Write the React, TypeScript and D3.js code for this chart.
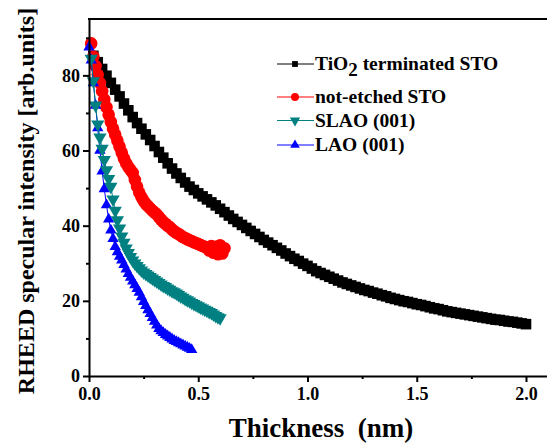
import React, { useEffect, useRef } from 'react';
import * as d3 from 'd3';

// TiO2 terminated STO
const tioThickness = [
  0.02, 0.04, 0.06, 0.08, 0.1, 0.12, 0.14, 0.16, 0.18, 0.2,
  0.22, 0.24, 0.26, 0.28, 0.3, 0.32, 0.34, 0.36, 0.38, 0.4,
  0.42, 0.44, 0.46, 0.48, 0.5, 0.52, 0.54, 0.56, 0.58, 0.6,
  0.62, 0.64, 0.66, 0.68, 0.7, 0.72, 0.74, 0.76, 0.78, 0.8,
  0.82, 0.84, 0.86, 0.88, 0.9, 0.92, 0.94, 0.96, 0.98, 1.0,
  1.02, 1.04, 1.06, 1.08, 1.1, 1.12, 1.14, 1.16, 1.18, 1.2,
  1.22, 1.24, 1.26, 1.28, 1.3, 1.32, 1.34, 1.36, 1.38, 1.4,
  1.42, 1.44, 1.46, 1.48, 1.5, 1.52, 1.54, 1.56, 1.58, 1.6,
  1.62, 1.64, 1.66, 1.68, 1.7, 1.72, 1.74, 1.76, 1.78, 1.8,
  1.82, 1.84, 1.86, 1.88, 1.9, 1.92, 1.94, 1.96, 1.98, 2.0,
];
const tioIntensity = [
  85.2, 83.5, 81.7, 79.9, 78.0, 76.2, 74.4, 72.5, 70.7, 68.9,
  67.3, 65.8, 64.3, 62.8, 61.2, 59.6, 58.1, 56.6, 55.2, 53.9,
  52.7, 51.5, 50.4, 49.5, 48.6, 47.8, 47.0, 46.2, 45.4, 44.5,
  43.6, 42.7, 41.8, 41.0, 40.2, 39.4, 38.6, 37.8, 37.0, 36.2,
  35.5, 34.8, 34.1, 33.4, 32.6, 31.9, 31.2, 30.6, 29.9, 29.3,
  28.6, 27.9, 27.4, 26.9, 26.4, 25.9, 25.4, 24.9, 24.5, 24.1,
  23.7, 23.3, 22.9, 22.6, 22.2, 21.9, 21.5, 21.2, 20.8, 20.5,
  20.2, 19.9, 19.7, 19.4, 19.1, 18.9, 18.6, 18.3, 18.0, 17.8,
  17.5, 17.2, 17.0, 16.8, 16.6, 16.4, 16.2, 16.0, 15.8, 15.6,
  15.4, 15.2, 15.0, 14.9, 14.7, 14.5, 14.4, 14.2, 14.0, 13.8,
];

// not-etched STO
const stoThickness = [
  0.01, 0.02, 0.03, 0.04, 0.05, 0.06, 0.07, 0.08, 0.09, 0.1,
  0.11, 0.12, 0.13, 0.14, 0.15, 0.16, 0.17, 0.18, 0.19, 0.2,
  0.21, 0.22, 0.23, 0.24, 0.25, 0.26, 0.27, 0.28, 0.29, 0.3,
  0.31, 0.32, 0.33, 0.34, 0.35, 0.36, 0.37, 0.38, 0.39, 0.4,
  0.41, 0.42, 0.43, 0.44, 0.45, 0.46, 0.47, 0.48, 0.49, 0.5,
  0.51, 0.52, 0.53, 0.54, 0.55, 0.56, 0.57, 0.58, 0.59, 0.6,
  0.61, 0.62,
];
const stoIntensity = [
  88.5, 85.0, 82.5, 80.2, 78.0, 75.8, 73.6, 71.5, 69.5, 67.6,
  65.8, 64.2, 62.6, 61.0, 59.4, 57.9, 56.6, 55.6, 54.8, 54.0,
  52.2, 50.4, 48.8, 47.6, 46.6, 45.8, 45.2, 44.6, 44.0, 43.5,
  43.0, 42.3, 41.6, 41.0, 40.5, 40.0, 39.6, 39.0, 38.5, 38.1,
  37.8, 37.4, 37.0, 36.7, 36.4, 36.1, 35.9, 35.6, 35.4, 35.1,
  34.9, 34.6, 34.4, 34.1, 33.4, 34.6, 32.8, 34.4, 32.4, 34.8,
  32.6, 34.0,
];

// SLAO (001)
const slaoThickness = [
  0.01, 0.02, 0.03, 0.04, 0.05, 0.06, 0.07, 0.08, 0.09, 0.1,
  0.11, 0.12, 0.13, 0.14, 0.15, 0.16, 0.17, 0.18, 0.19, 0.2,
  0.21, 0.22, 0.23, 0.24, 0.25, 0.26, 0.27, 0.28, 0.29, 0.3,
  0.31, 0.32, 0.33, 0.34, 0.35, 0.36, 0.37, 0.38, 0.39, 0.4,
  0.41, 0.42, 0.43, 0.44, 0.45, 0.46, 0.47, 0.48, 0.49, 0.5,
  0.51, 0.52, 0.53, 0.54, 0.55, 0.56, 0.57, 0.58, 0.59, 0.6,
];
const slaoIntensity = [
  84.5, 78.5, 72.0, 67.0, 63.5, 60.5, 57.5, 54.8, 52.5, 50.4,
  47.0, 44.0, 41.5, 39.3, 37.2, 35.5, 34.0, 32.8, 31.7, 30.8,
  30.0, 29.3, 28.7, 28.1, 27.6, 27.2, 26.8, 26.4, 26.0, 25.6,
  25.2, 24.8, 24.4, 24.0, 23.7, 23.3, 23.0, 22.6, 22.3, 22.0,
  21.6, 21.2, 20.9, 20.5, 20.2, 19.9, 19.5, 19.2, 18.9, 18.6,
  18.3, 18.0, 17.7, 17.4, 17.1, 16.8, 16.4, 16.0, 15.7, 15.4,
];

// LAO (001)
const laoThickness = [
  0.0, 0.01, 0.02, 0.03, 0.04, 0.05, 0.06, 0.07, 0.08, 0.09,
  0.1, 0.11, 0.12, 0.13, 0.14, 0.15, 0.16, 0.17, 0.18, 0.19,
  0.2, 0.21, 0.22, 0.23, 0.24, 0.25, 0.26, 0.27, 0.28, 0.29,
  0.3, 0.31, 0.32, 0.33, 0.34, 0.35, 0.36, 0.37, 0.38, 0.39,
  0.4, 0.41, 0.42, 0.43, 0.44, 0.45, 0.46, 0.47,
];
const laoIntensity = [
  87.5, 84.0, 78.0, 72.0, 66.0, 60.0, 54.5, 49.8, 45.5, 41.7,
  38.8, 36.5, 34.4, 33.0, 31.8, 30.8, 29.6, 28.4, 27.2, 26.2,
  25.2, 24.2, 23.2, 22.2, 21.0, 19.8, 18.7, 17.6, 16.6, 15.5,
  14.5, 13.5, 12.6, 12.0, 11.5, 11.0, 10.6, 10.2, 9.8, 9.4,
  9.1, 8.8, 8.5, 8.2, 7.9, 7.6, 7.3, 7.0,
];

const xMajorTicks = [0, 0.5, 1.0, 1.5, 2.0];
const xMinorTicks = [0.25, 0.75, 1.25, 1.75];
const yMajorTicks = [0, 20, 40, 60, 80];
const yMinorTicks = [10, 30, 50, 70, 90];

const FONT = "'Liberation Serif', 'Times New Roman', serif";

const App = () => {
  const chartRef = useRef<SVGSVGElement>(null);

  useEffect(() => {
    drawChart();
  }, []);

  const drawChart = () => {
    const svg = d3.select(chartRef.current);
    svg.selectAll('*').remove();

    const x = d3.scaleLinear().domain([0, 2.1]).range([89, 547.85]);
    const y = d3.scaleLinear().domain([0, 95]).range([376, 19]);

    const series = [
      { name: 'tio', xs: tioThickness, ys: tioIntensity, color: '#000000', symbol: d3.symbolSquare, size: 112, rot: 0 },
      { name: 'sto', xs: stoThickness, ys: stoIntensity, color: '#ff0000', symbol: d3.symbolCircle, size: 125, rot: 0 },
      { name: 'lao', xs: laoThickness, ys: laoIntensity, color: '#0000ff', symbol: d3.symbolTriangle, size: 56, rot: 0 },
      { name: 'slao', xs: slaoThickness, ys: slaoIntensity, color: '#008080', symbol: d3.symbolTriangle, size: 76, rot: 180 },
    ];

    series.forEach(s => {
      const idx = d3.range(s.xs.length);
      const line = d3.line<number>()
        .x(i => x(s.xs[i]))
        .y(i => y(s.ys[i]));
      svg.append('path')
        .datum(idx)
        .attr('d', line)
        .attr('fill', 'none')
        .attr('stroke', s.color)
        .attr('stroke-width', 1);
      svg.append('g')
        .selectAll('path')
        .data(idx)
        .enter()
        .append('path')
        .attr('d', d3.symbol().type(s.symbol).size(s.size)())
        .attr('transform', i => `translate(${x(s.xs[i])},${y(s.ys[i])}) rotate(${s.rot})`)
        .attr('fill', s.color);
    });

    // axes
    const styleAxis = (g: any) => {
      g.selectAll('line').attr('stroke', '#000').attr('stroke-width', 2);
      g.selectAll('.domain').attr('stroke', '#000').attr('stroke-width', 2);
      g.selectAll('text')
        .attr('fill', '#000')
        .style('font-family', FONT)
        .style('font-weight', 'bold')
        .style('font-size', '18px');
    };

    svg.append('g')
      .attr('transform', 'translate(0,376)')
      .call(d3.axisBottom(x).tickValues(xMinorTicks).tickSize(3).tickFormat(() => ''))
      .call(g => g.select('.domain').remove())
      .call(styleAxis);
    svg.append('g')
      .attr('transform', 'translate(0,376)')
      .call(d3.axisBottom(x).tickValues(xMajorTicks).tickSize(6).tickSizeOuter(0).tickPadding(5).tickFormat(d3.format('.1f')))
      .call(styleAxis);

    svg.append('g')
      .attr('transform', 'translate(89,0)')
      .call(d3.axisLeft(y).tickValues(yMinorTicks).tickSize(3).tickFormat(() => ''))
      .call(g => g.select('.domain').remove())
      .call(styleAxis);
    svg.append('g')
      .attr('transform', 'translate(89,0)')
      .call(d3.axisLeft(y).tickValues(yMajorTicks).tickSize(6).tickSizeOuter(0).tickPadding(3))
      .call(styleAxis);

    // top frame
    svg.append('line')
      .attr('x1', 88).attr('x2', 548)
      .attr('y1', 19).attr('y2', 19)
      .attr('stroke', '#000').attr('stroke-width', 2);

    // axis titles
    svg.append('text')
      .attr('x', 321).attr('y', 437)
      .attr('text-anchor', 'middle')
      .style('font-family', FONT).style('font-weight', 'bold').style('font-size', '27px')
      .style('white-space', 'pre')
      .text('Thickness  (nm)');
    svg.append('text')
      .attr('transform', 'translate(34,201) rotate(-90)')
      .attr('text-anchor', 'middle')
      .style('font-family', FONT).style('font-weight', 'bold').style('font-size', '24px')
      .text('RHEED specular intensity [arb.units]');

    // legend
    const legendRows = [
      { s: series[0], cy: 64 },
      { s: series[1], cy: 97 },
      { s: series[3], cy: 120.5 },
      { s: series[2], cy: 145 },
    ];
    const legendSizes: Record<string, number> = { tio: 34, sto: 50, slao: 46, lao: 40 };
    legendRows.forEach(r => {
      svg.append('line')
        .attr('x1', 277).attr('x2', 314)
        .attr('y1', r.cy).attr('y2', r.cy)
        .attr('stroke', r.s.color).attr('stroke-width', 1);
      svg.append('path')
        .attr('d', d3.symbol().type(r.s.symbol).size(legendSizes[r.s.name])())
        .attr('transform', `translate(295,${r.cy}) rotate(${r.s.rot})`)
        .attr('fill', r.s.color);
    });

    const lt = (yy: number) => svg.append('text')
      .attr('x', 315).attr('y', yy)
      .style('font-family', FONT).style('font-weight', 'bold').style('font-size', '19.5px');

    const t0 = lt(70);
    t0.append('tspan').text('TiO');
    t0.append('tspan').attr('dy', 6).style('font-size', '19px').text('2');
    t0.append('tspan').attr('dy', -6).text(' terminated STO');
    lt(103).text('not-etched STO');
    lt(127).text('SLAO (001)');
    lt(151).text('LAO (001)');
  };

  return (
    <div>
      <svg
        ref={chartRef}
        width={547}
        height={446}
        style={{ position: 'absolute', left: 0, top: 0, background: '#fff' }}
      ></svg>
    </div>
  );
};

export default App;
